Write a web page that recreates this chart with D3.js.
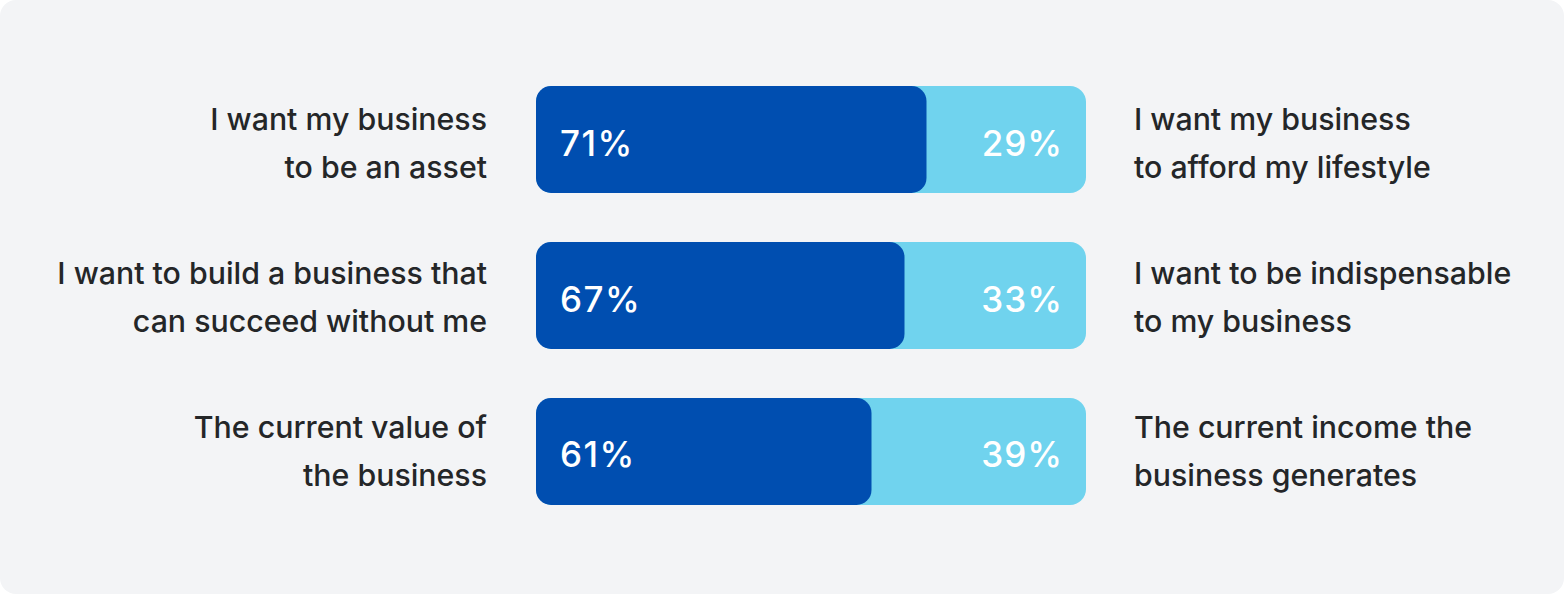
<!DOCTYPE html>
<html>
<head>
<meta charset="utf-8">
<script src="https://cdn.jsdelivr.net/npm/d3@7"></script>
<style>
  body { margin: 0; background: #ffffff; }
  svg { display: block; }
</style>
</head>
<body>
<svg width="1564" height="594"></svg>
<script>
// left statements (dark share) and right statements (light share)
const leftLabels = [
    ["I want my business", "to be an asset"],
    ["I want to build a business that", "can succeed without me"],
    ["The current value of", "the business"]
];
const rightLabels = [
    ["I want my business", "to afford my lifestyle"],
    ["I want to be indispensable", "to my business"],
    ["The current income the", "business generates"]
];
const leftValues = [71, 67, 61];
const rightValues = [29, 33, 39];

const svg = d3.select("svg"),
    width = +svg.attr("width"),
    height = +svg.attr("height");

const dark = "#004eb0",
    light = "#70d3ee",
    textColor = "#242628";

svg.append("rect")
    .attr("x", 0)
    .attr("y", 0)
    .attr("width", width)
    .attr("height", height)
    .attr("rx", 16)
    .attr("fill", "#f3f4f6");

const rows = d3.range(leftValues.length);

const x = d3.scaleLinear()
    .domain([0, 100])
    .range([536, 1086]);

const y = d3.scaleBand()
    .domain(rows)
    .range([86, 505])
    .paddingInner(0.314);

const barH = y.bandwidth();

const g = svg.append("g");

// full bar = light share
g.selectAll(".bg")
    .data(rows)
    .enter().append("rect")
    .attr("x", x(0))
    .attr("y", d => y(d))
    .attr("width", d => x(leftValues[d] + rightValues[d]) - x(0))
    .attr("height", barH)
    .attr("rx", 16)
    .attr("fill", light);

// dark share on top
g.selectAll(".fg")
    .data(rows)
    .enter().append("rect")
    .attr("x", x(0))
    .attr("y", d => y(d))
    .attr("width", d => x(leftValues[d]) - x(0))
    .attr("height", barH)
    .attr("rx", 15)
    .attr("fill", dark);

g.selectAll(".lv")
    .data(rows)
    .enter().append("text")
    .attr("x", x(0) + 24)
    .attr("y", d => y(d) + barH / 2 + 16)
    .attr("fill", "#ffffff")
    .style("font-family", "Inter, 'Open Sans', sans-serif")
    .style("font-weight", 500)
    .style("font-size", "35px")
    .style("letter-spacing", "1.5px")
    .text(d => leftValues[d] + "%");

g.selectAll(".rv")
    .data(rows)
    .enter().append("text")
    .attr("x", x(100) - 23)
    .attr("y", d => y(d) + barH / 2 + 16)
    .attr("text-anchor", "end")
    .attr("fill", "#ffffff")
    .style("font-family", "Inter, 'Open Sans', sans-serif")
    .style("font-weight", 500)
    .style("font-size", "35px")
    .style("letter-spacing", "1px")
    .text(d => rightValues[d] + "%");

function addLabels(labels, xPos, anchor) {
    const t = g.selectAll(null)
        .data(rows)
        .enter().append("text")
        .attr("text-anchor", anchor)
        .attr("fill", textColor)
        .style("font-family", "Inter, 'Open Sans', sans-serif")
        .style("font-weight", 500)
        .style("font-size", "30.3px")
        .attr("y", d => y(d) + barH / 2 - 9.5 - d * 2);
    t.selectAll("tspan")
        .data(d => labels[d])
        .enter().append("tspan")
        .attr("x", xPos)
        .attr("dy", (d, i) => i === 0 ? 0 : 48)
        .text(d => d);
}

addLabels(leftLabels, 487, "end");
addLabels(rightLabels, 1134, "start");
</script>
</body>
</html>
